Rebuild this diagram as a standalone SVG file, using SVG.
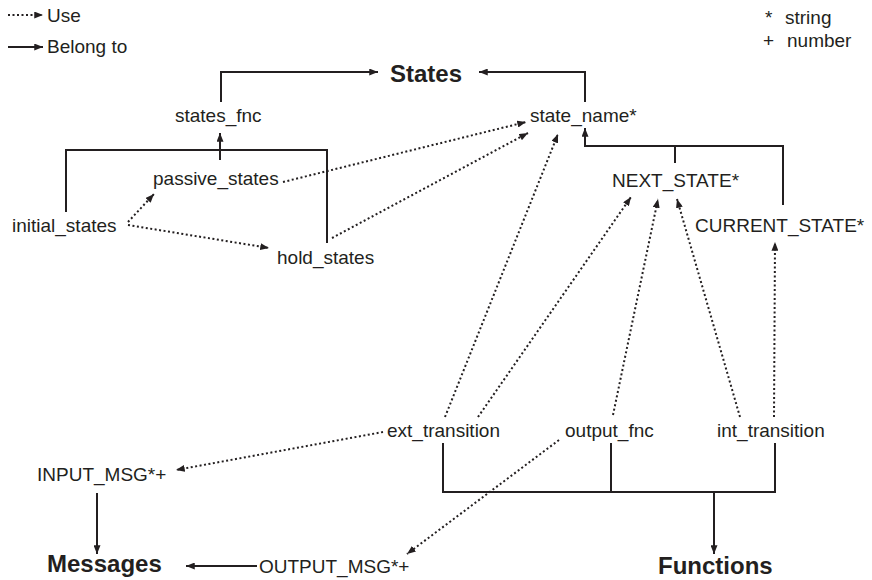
<svg xmlns="http://www.w3.org/2000/svg" width="872" height="580" viewBox="0 0 872 580">
  <style>
    text { font-family: "Liberation Sans", Arial, sans-serif; font-size: 19px; fill: #231f20; }
    .title { font-weight: bold; font-size: 24px; }
    .solid { fill: none; stroke: #231f20; stroke-width: 2; }
    .dot { fill: none; stroke: #231f20; stroke-width: 2; stroke-dasharray: 2 2.5; }
  </style>
  <defs>
    <marker id="arrow" viewBox="0 0 10 8" markerWidth="9" markerHeight="7" refX="10" refY="4" orient="auto" markerUnits="userSpaceOnUse">
      <path d="M0,0 L10,4 L0,8 z" fill="#231f20"/>
    </marker>
  </defs>
  <rect width="872" height="580" fill="#ffffff"/>

  <!-- legend -->
  <g id="legend">
    <path class="dot" d="M8,15 H43" marker-end="url(#arrow)"/>
    <text x="47" y="22">Use</text>
    <path class="solid" d="M8,47 H43" marker-end="url(#arrow)"/>
    <text x="47" y="53">Belong to</text>
    <text x="765" y="24">*<tspan x="785">string</tspan></text>
    <text x="763" y="47">+<tspan x="787">number</tspan></text>
  </g>

  <!-- nodes -->
  <g id="states"><text class="title" x="390" y="82">States</text></g>
  <g id="states_fnc"><text x="175" y="122">states_fnc</text></g>
  <g id="state_name"><text x="530" y="122">state_name*</text></g>
  <g id="passive_states"><text x="153" y="185">passive_states</text></g>
  <g id="initial_states"><text x="12" y="232">initial_states</text></g>
  <g id="hold_states"><text x="277" y="264">hold_states</text></g>
  <g id="next_state"><text x="612" y="187">NEXT_STATE*</text></g>
  <g id="current_state"><text x="695" y="232">CURRENT_STATE*</text></g>
  <g id="ext_transition"><text x="387" y="437">ext_transition</text></g>
  <g id="output_fnc"><text x="565" y="437">output_fnc</text></g>
  <g id="int_transition"><text x="717" y="437">int_transition</text></g>
  <g id="input_msg"><text x="37" y="481">INPUT_MSG*+</text></g>
  <g id="messages"><text class="title" x="47" y="572">Messages</text></g>
  <g id="output_msg"><text x="259" y="573">OUTPUT_MSG*+</text></g>
  <g id="functions"><text class="title" x="658" y="574">Functions</text></g>

  <!-- connectors -->
  <g id="connectors">
    <!-- belong to -->
    <path class="solid" d="M221,102 V72 H378" marker-end="url(#arrow)"/>
    <path class="solid" d="M585,102 V72 H479" marker-end="url(#arrow)"/>
    <path class="solid" d="M220,160 V133" marker-end="url(#arrow)"/>
    <path class="solid" d="M66,212 V150 H327 V243"/>
    <path class="solid" d="M675,163 V146"/>
    <path class="solid" d="M783,205 V146 H585 V128" marker-end="url(#arrow)"/>
    <path class="solid" d="M443,443 V492 H775 V443"/>
    <path class="solid" d="M611,443 V492"/>
    <path class="solid" d="M714,492 V554" marker-end="url(#arrow)"/>
    <path class="solid" d="M97,493 V554" marker-end="url(#arrow)"/>
    <path class="solid" d="M257,566 H186" marker-end="url(#arrow)"/>
    <!-- use -->
    <path class="dot" d="M128,222 L154,194" marker-end="url(#arrow)"/>
    <path class="dot" d="M128,225 L269,248" marker-end="url(#arrow)"/>
    <path class="dot" d="M283,182 L526,122" marker-end="url(#arrow)"/>
    <path class="dot" d="M332,238 L528,133" marker-end="url(#arrow)"/>
    <path class="dot" d="M445,417 L558,134" marker-end="url(#arrow)"/>
    <path class="dot" d="M478,417 L631,197" marker-end="url(#arrow)"/>
    <path class="dot" d="M613,415 L658,199" marker-end="url(#arrow)"/>
    <path class="dot" d="M740,417 L677,199" marker-end="url(#arrow)"/>
    <path class="dot" d="M774,417 L775,242" marker-end="url(#arrow)"/>
    <path class="dot" d="M383,432 L176,470" marker-end="url(#arrow)"/>
    <path class="dot" d="M559,440 L407,554" marker-end="url(#arrow)"/>
  </g>
</svg>
